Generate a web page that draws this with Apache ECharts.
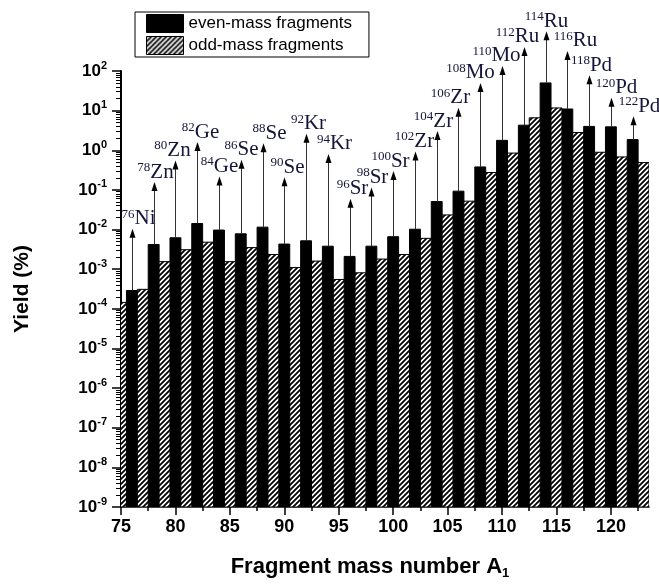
<!DOCTYPE html>
<html><head><meta charset="utf-8">
<script src="https://cdn.jsdelivr.net/npm/echarts@6/dist/echarts.min.js"></script>
<style>html,body{margin:0;padding:0;background:#fff}#c{width:659px;height:584px}</style>
</head><body><div id="c"></div>
<script>
// ---- data ----
const evenMass = [76,78,80,82,84,86,88,90,92,94,96,98,100,102,104,106,108,110,112,114,116,118,120,122];
const evenYield = [2.9e-4,4.2e-3,6.2e-3,1.42e-2,9.7e-3,7.8e-3,1.15e-2,4.3e-3,5.2e-3,3.8e-3,2.1e-3,3.8e-3,6.6e-3,1.02e-2,5.1e-2,9.3e-2,0.38,1.78,4.3,50,11,4.0,3.9,1.86];
const oddMass = [75,77,79,81,83,85,87,89,91,93,95,97,99,101,103,105,107,109,111,113,115,117,119,121,123];
const oddYield = [1.45e-4,3.1e-4,1.55e-3,3.1e-3,4.8e-3,1.55e-3,3.5e-3,2.35e-3,1.1e-3,1.6e-3,5.5e-4,8.1e-4,1.8e-3,2.35e-3,6.0e-3,2.34e-2,5.2e-2,0.275,0.85,6.6,11.7,2.8,0.89,0.68,0.49];
// yield level at which each annotation arrow ends
const arrowTip = [0.0105,0.158,0.556,1.61,0.219,0.575,1.51,0.209,2.63,0.81,0.060,0.115,0.30,0.93,3.05,11.9,50,134,404,1000,320,78,21,7.2];
const nuclideSymbol = ['Ni','Zn','Zn','Ge','Ge','Se','Se','Se','Kr','Kr','Sr','Sr','Sr','Zr','Zr','Zr','Mo','Mo','Ru','Ru','Ru','Pd','Pd','Pd'];
const xTickLabels = [75,80,85,90,95,100,105,110,115,120];
const xMinorTicks = [77.5,82.5,87.5,92.5,97.5,102.5,107.5,112.5,117.5,122.5];
const yTickExponents = [-9,-8,-7,-6,-5,-4,-3,-2,-1,0,1,2];
const seriesNames = ['even-mass fragments','odd-mass fragments'];

// ---- layout: horizontal nudge (px) of each nuclide label relative to its arrow ----
const labelNudge = [6,1,-3,3,0,0,6,3,2,6,2,1,-3,-1,-4,-8,-10,-6,-7,0,8,2,5,6];

const Y_MIN = Math.pow(10, yTickExponents[0]);
const Y_MAX = Math.pow(10, yTickExponents[yTickExponents.length-1]);
const X_MIN = 75, X_MAX = 123.5;

// minor log ticks (2..9 within each decade), in exponent space
const yMinorTicks = [];
for (let i = 0; i < yTickExponents.length - 1; i++) {
  for (let k = 2; k <= 9; k++) yMinorTicks.push(yTickExponents[i] + Math.log10(k));
}

// hatch pattern
const P = 5;
const pc = document.createElement('canvas');
pc.width = P; pc.height = P;
const g = pc.getContext('2d');
g.fillStyle = '#fff'; g.fillRect(0,0,P,P);
g.strokeStyle = '#000'; g.lineWidth = 1.8;
g.beginPath();
g.moveTo(-1,1); g.lineTo(1,-1);
g.moveTo(0,P); g.lineTo(P,0);
g.moveTo(P-1,P+1); g.lineTo(P+1,P-1);
g.stroke();
const hatch = {image: pc, repeat: 'repeat'};

const chart = echarts.init(document.getElementById('c'), null, {renderer:'canvas'});

function barRender(fill) {
  return function (params, api) {
    const x = api.value(0), v = api.value(1);
    const p1 = api.coord([x - 0.5, v]);
    const p2 = api.coord([x + 0.5, Y_MIN]);
    return {
      type: 'rect',
      shape: {x: p1[0], y: p1[1], width: p2[0]-p1[0], height: p2[1]-p1[1]},
      style: {fill: fill, stroke: '#000', lineWidth: 1}
    };
  };
}

function arrowRender(params, api) {
  const i = params.dataIndex;
  const base = api.coord([api.value(0), api.value(1)]);
  const tip = api.coord([api.value(0), api.value(2)]);
  const x = Math.round(tip[0]) + 0.5;
  const hh = 9, hw = 3;
  return {
    type: 'group',
    children: [
      {type:'line', shape:{x1:x, y1:base[1], x2:x, y2:tip[1]+hh-1}, style:{stroke:'#333', lineWidth:1}},
      {type:'polygon', shape:{points:[[x,tip[1]],[x-hw,tip[1]+hh],[x+hw,tip[1]+hh]]}, style:{fill:'#000'}},
      {type:'text', x: x + labelNudge[i], y: tip[1]+1, style:{
        text: '{s|' + evenMass[i] + '}{e|' + nuclideSymbol[i] + '}',
        align: 'center', verticalAlign: 'bottom',
        rich: {
          s: {fontFamily:'Liberation Serif', fontSize:13, lineHeight:13, verticalAlign:'top', fill:'#15153a'},
          e: {fontFamily:'Liberation Serif', fontSize:21, lineHeight:22, fill:'#15153a'}
        }
      }}
    ]
  };
}

const axisLineStyle = {color:'#000', width:1.5};

chart.setOption({
  animation: false,
  backgroundColor: '#fff',
  grid: {left: 121, right: 10, top: 71, bottom: 77, containLabel: false, outerBoundsMode: 'none'},
  legend: {
    orient: 'vertical', left: 135, top: 12,
    padding: [2, 17, 2, 11],
    borderColor: '#000', borderWidth: 1,
    itemWidth: 37, itemHeight: 18, itemGap: 3,
    icon: 'rect',
    textStyle: {fontFamily:'Liberation Sans', fontSize:17, color:'#000'},
    data: [
      {name: seriesNames[0], itemStyle: {color:'#000', borderColor:'#000', borderWidth:1}},
      {name: seriesNames[1], itemStyle: {color: hatch, borderColor:'#000', borderWidth:1}}
    ]
  },
  xAxis: [
    {
      type: 'value', min: X_MIN, max: X_MAX, position: 'bottom',
      axisLine: {show: true, onZero: false, lineStyle: axisLineStyle},
      axisTick: {show: true, length: 8, lineStyle: axisLineStyle, customValues: xTickLabels},
      axisLabel: {customValues: xTickLabels, fontFamily:'Liberation Sans', fontSize:18, fontWeight:'bold', color:'#000', margin: 11},
      splitLine: {show: false},
      name: '{t|Fragment mass number A}{u|1}',
      nameLocation: 'middle', nameGap: 47,
      nameTextStyle: {
        padding: [0, 30, 0, 0],
        rich: {
          t: {fontFamily:'Liberation Sans', fontSize:22, fontWeight:'bold', color:'#000', lineHeight:26},
          u: {fontFamily:'Liberation Sans', fontSize:13, fontWeight:'bold', color:'#000', verticalAlign:'bottom', lineHeight:16}
        }
      }
    },
    {
      type: 'value', min: X_MIN, max: X_MAX, position: 'bottom',
      axisLine: {show: false, onZero: false}, axisLabel: {show: false}, splitLine: {show: false},
      axisTick: {show: true, length: 4, lineStyle: axisLineStyle, customValues: xMinorTicks}
    }
  ],
  yAxis: [
    {type: 'log', logBase: 10, min: Y_MIN, max: Y_MAX, show: false, position: 'left', axisLine: {onZero: false}},
    {
      type: 'value', min: yTickExponents[0], max: yTickExponents[yTickExponents.length-1], interval: 1, position: 'left',
      axisLine: {show: true, onZero: false, lineStyle: {color:'#000', width:2}},
      axisTick: {show: true, length: 9, lineStyle: axisLineStyle},
      splitLine: {show: false},
      axisLabel: {
        margin: 14, color:'#000',
        formatter: function (v) { return '{b|10}{s|' + v + '}'; },
        rich: {
          b: {fontFamily:'Liberation Sans', fontSize:17, fontWeight:'bold', color:'#000', lineHeight:22},
          s: {fontFamily:'Liberation Sans', fontSize:11, fontWeight:'bold', color:'#000', lineHeight:11, verticalAlign:'top'}
        }
      },
      name: 'Yield (%)', nameLocation: 'middle', nameGap: 88, nameRotate: 90,
      nameTextStyle: {fontFamily:'Liberation Sans', fontSize:21, fontWeight:'bold', color:'#000'}
    },
    {
      type: 'value', min: yTickExponents[0], max: yTickExponents[yTickExponents.length-1], position: 'left',
      axisLine: {show: false, onZero: false}, axisLabel: {show: false}, splitLine: {show: false},
      axisTick: {show: true, length: 5, lineStyle: {color:'#000', width:1}, customValues: yMinorTicks}
    }
  ],
  series: [
    {
      name: seriesNames[0], type: 'custom', xAxisIndex: 0, yAxisIndex: 0, clip: true, z: 3,
      itemStyle: {color: '#000'},
      renderItem: barRender('#000'),
      data: evenMass.map((m, i) => [m, evenYield[i]])
    },
    {
      name: seriesNames[1], type: 'custom', xAxisIndex: 0, yAxisIndex: 0, clip: true, z: 3,
      itemStyle: {color: hatch},
      renderItem: barRender(hatch),
      data: oddMass.map((m, i) => [m, oddYield[i]])
    },
    {
      name: 'annotations', type: 'custom', xAxisIndex: 0, yAxisIndex: 0, clip: false, z: 4,
      renderItem: arrowRender,
      data: evenMass.map((m, i) => [m, evenYield[i], arrowTip[i]])
    }
  ]
});
</script></body></html>
